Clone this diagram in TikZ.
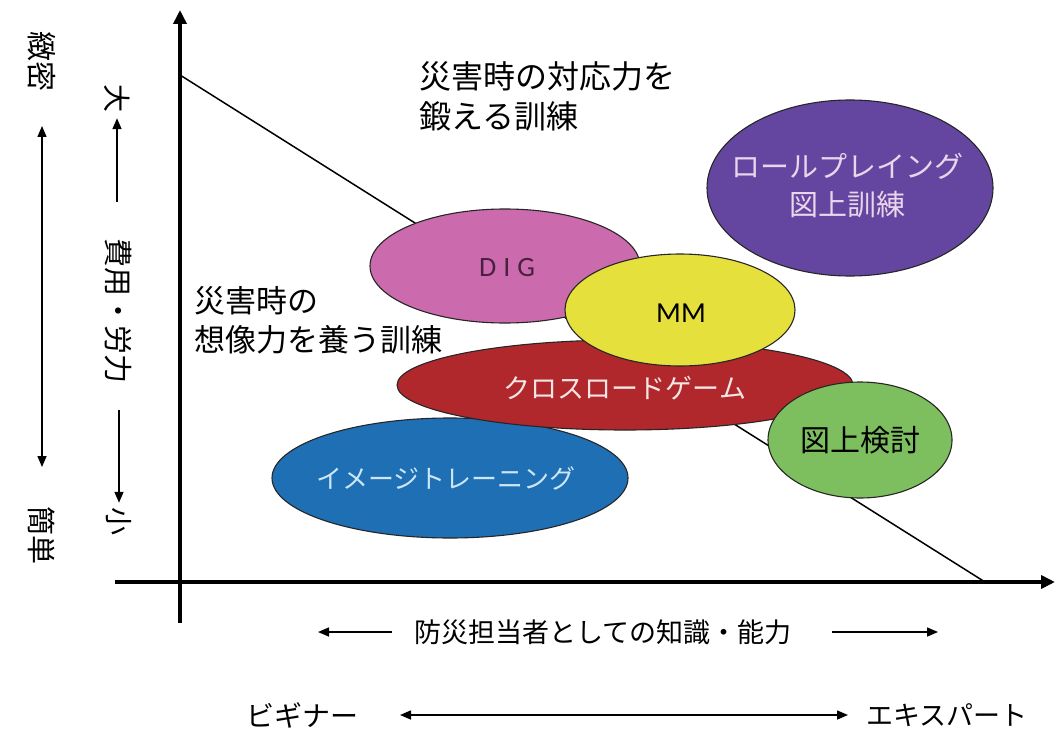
\documentclass[tikz,border=0pt]{standalone}
\usepackage{fontspec}
\newfontfamily\jp{Noto Sans CJK JP}
\newfontfamily\lat{Carlito}
\usetikzlibrary{arrows.meta}
\definecolor{cpink}{HTML}{CC6AAE}
\definecolor{cyellow}{HTML}{E6E03C}
\definecolor{cred}{HTML}{B0282C}
\definecolor{cblue}{HTML}{1E6FB4}
\definecolor{cgreen}{HTML}{7DBF5E}
\definecolor{cpurple}{HTML}{6446A0}
\definecolor{tdig}{HTML}{4A2040}
\definecolor{tred}{HTML}{F5E6E6}
\definecolor{tblue}{HTML}{CDE6F5}
\definecolor{tpurple}{HTML}{EAD5EA}
\tikzset{
  blob/.style={draw=black!85, line width=1.1pt},
  axis/.style={line width=3.6pt, -{Triangle[length=14pt,width=13pt]}},
  thinarrow/.style={line width=1.5pt, -{Triangle[length=11pt,width=9pt]}},
  dblarrow/.style={line width=1.5pt, {Triangle[length=11pt,width=9pt]}-{Triangle[length=11pt,width=9pt]}},
  txt/.style={inner sep=0pt, font=\jp},
}
\begin{document}
\begin{tikzpicture}[x=1pt,y=-1pt]
\useasboundingbox (0,0) rectangle (1059,730);
\fill[white] (0,0) rectangle (1059,730);
% diagonal
\coordinate (d1) at (180,75);
\coordinate (d2) at (985,582);
\draw[line width=1.5pt] (d1) -- (d2);
% ellipses
\fill[cblue] (450,478) ellipse [x radius=178, y radius=60];
\draw[blob] (450,478) ellipse [x radius=178, y radius=60];
\fill[cred] (625,385) ellipse [x radius=228, y radius=45];
\draw[blob] (625,385) ellipse [x radius=228, y radius=45];
\fill[cpink] (505,266) ellipse [x radius=135, y radius=57];
\draw[blob] (505,266) ellipse [x radius=135, y radius=57];
\fill[cyellow] (680,310) ellipse [x radius=115, y radius=56];
\draw[blob] (680,310) ellipse [x radius=115, y radius=56];
\fill[cgreen] (860,440) ellipse [x radius=92, y radius=58];
\draw[blob] (860,440) ellipse [x radius=92, y radius=58];
\fill[cpurple] (850,188) ellipse [x radius=143, y radius=88];
\draw[blob] (850,188) ellipse [x radius=143, y radius=88];
% ellipse labels
\node[txt, text=tblue, font=\jp\fontsize{26}{30}\selectfont] (img) at (446,478) {イメージトレーニング};
\node[txt, text=tred, font=\jp\fontsize{27}{30}\selectfont] (cross) at (625,388) {クロスロードゲーム};
\node[txt, text=tdig, font=\lat\fontsize{28}{30}\selectfont] (dig) at (507,268) {D\hspace{7pt}I\hspace{7pt}G};
\node[txt, text=black, font=\lat\fontsize{29}{30}\selectfont] (mm) at (681,313) {MM};
\node[txt, text=black, font=\jp\fontsize{30}{32}\selectfont] (zuken) at (860,440) {図上検討};
\node[txt, text=tpurple, align=center, font=\jp\fontsize{29}{38}\selectfont] (role) at (847,186) {ロールプレイング\\図上訓練};
% category texts
\node[txt, align=left, anchor=north west, font=\jp\fontsize{32}{40}\selectfont] (resp) at (419,61) {災害時の対応力を\\鍛える訓練};
\node[txt, align=left, anchor=north west, font=\jp\fontsize{31}{39}\selectfont] (imag) at (194,286) {災害時の\\想像力を養う訓練};
% axes
\coordinate (vb) at (180,623);
\coordinate (vt) at (180,10);
\coordinate (hl) at (115,582);
\coordinate (hr) at (1055,582);
\draw[axis] (vb) -- (vt);
\draw[axis] (hl) -- (hr);
% left vertical labels
\node[txt, rotate=-90, font=\jp\fontsize{30}{32}\selectfont] (chi) at (42,62) {緻密};
\node[txt, rotate=-90, font=\jp\fontsize{29}{32}\selectfont] (kan) at (42,535) {簡単};
\coordinate (la1) at (42,126);
\coordinate (la2) at (42,467);
\draw[dblarrow] (la1) -- (la2);
\node[txt, rotate=-90, inner sep=5pt, font=\jp\fontsize{28}{30}\selectfont] (dai) at (117,99) {大};
\node[txt, rotate=-90, inner sep=4pt, font=\jp\fontsize{28}{30}\selectfont] (sho) at (119,521) {小};
\node[txt, rotate=-90, font=\jp\fontsize{29}{30}\selectfont] (hiyo) at (118,311) {費用・労力};
\coordinate (ua) at (117,202);
\coordinate (ub) at (119,410);
\draw[thinarrow] (ua) -- (dai);
\draw[thinarrow] (ub) -- (sho);
% bottom labels
\node[txt, font=\jp\fontsize{27}{30}\selectfont] (know) at (603,632) {防災担当者としての知識・能力};
\coordinate (ka) at (392,632);
\coordinate (kb) at (832,632);
\coordinate (kal) at (318,632);
\coordinate (kbr) at (938,632);
\draw[thinarrow] (ka) -- (kal);
\draw[thinarrow] (kb) -- (kbr);
\node[txt, font=\jp\fontsize{28}{30}\selectfont] (beg) at (302,715) {ビギナー};
\node[txt, font=\jp\fontsize{27}{30}\selectfont] (exp) at (947,715) {エキスパート};
\coordinate (ba) at (400,715);
\coordinate (bb) at (848,715);
\draw[dblarrow] (ba) -- (bb);
\end{tikzpicture}
\end{document}
